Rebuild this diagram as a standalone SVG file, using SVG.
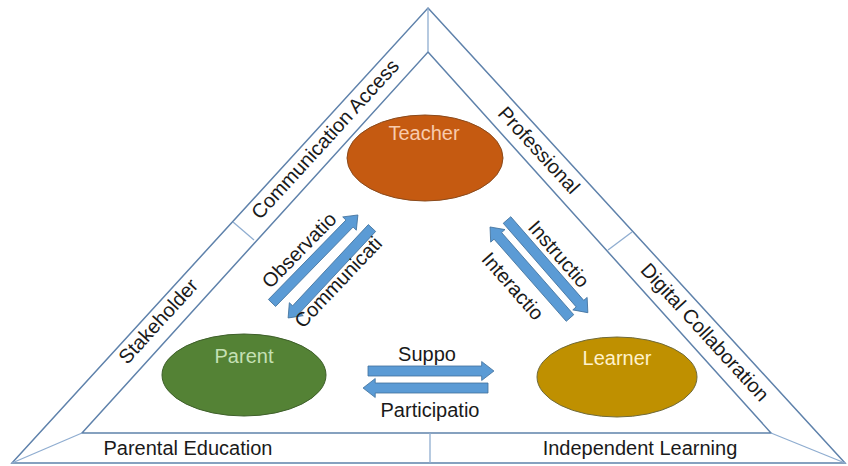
<svg xmlns="http://www.w3.org/2000/svg" width="848" height="466" viewBox="0 0 848 466">
  <style>
    .frame { fill: none; stroke: #5f82ab; stroke-width: 1.5; stroke-linejoin: miter; }
    .div { fill: none; stroke: #8fadd0; stroke-width: 1.3; }
    .lbl { font-family: "Liberation Sans", Arial, sans-serif; font-size: 20px; fill: #1a1a1a; text-anchor: middle; }
    .node-txt { font-family: "Liberation Sans", Arial, sans-serif; font-size: 20px; text-anchor: middle; }
    .arrow { fill: #5b9bd5; stroke: #41719c; stroke-width: 0.8; }
  </style>
  <defs>
    <!-- block arrow pointing along +x, length 123 -->
    <path id="blk" d="M0,-5 H111 V-9.5 L123,0 L111,9.5 V5 H0 Z"/>
  </defs>
  <rect width="848" height="466" fill="#ffffff"/>

  <!-- triangular frame -->
  <g id="frame">
    <polygon class="frame" points="428,8 845,463 12,463"/>
    <polygon class="frame" points="428,52 771,433 82,433"/>
    <line class="div" x1="428" y1="8" x2="428" y2="52"/>
    <line class="div" x1="12" y1="463" x2="82" y2="433"/>
    <line class="div" x1="845" y1="463" x2="771" y2="433"/>
    <line class="div" x1="233" y1="222" x2="254" y2="240"/>
    <line class="div" x1="632" y1="232" x2="608" y2="250"/>
    <line class="div" x1="430" y1="433" x2="430" y2="463"/>
  </g>

  <!-- band labels -->
  <g id="band-labels">
    <text class="lbl" transform="translate(325,139) rotate(-47.6)" y="7">Communication Access</text>
    <text class="lbl" transform="translate(158,321) rotate(-47.6)" y="7">Stakeholder</text>
    <text class="lbl" transform="translate(539,150) rotate(47.5)" y="7">Professional</text>
    <text class="lbl" transform="translate(705,332) rotate(47.5)" y="7">Digital Collaboration</text>
    <text class="lbl" x="188" y="455">Parental Education</text>
    <text class="lbl" x="640" y="455">Independent Learning</text>
  </g>

  <!-- nodes -->
  <g id="teacher">
    <ellipse cx="425" cy="158" rx="78" ry="43" fill="#c55a11" stroke="#8a4a1c" stroke-width="1"/>
    <text class="node-txt" x="424" y="140" fill="#f8cbad">Teacher</text>
  </g>
  <g id="parent">
    <ellipse cx="244" cy="375" rx="82" ry="41" fill="#548235" stroke="#3e5f2a" stroke-width="1"/>
    <text class="node-txt" x="244" y="363" fill="#c5e0b4">Parent</text>
  </g>
  <g id="learner">
    <ellipse cx="617" cy="377" rx="80" ry="40" fill="#bf9000" stroke="#6f6a3a" stroke-width="1"/>
    <text class="node-txt" x="617" y="365" fill="#fff2cc">Learner</text>
  </g>

  <!-- connectors -->
  <g id="connectors">
    <use href="#blk" class="arrow" transform="translate(272,303) rotate(-45.7)"/>
    <use href="#blk" class="arrow" transform="translate(372,228) rotate(133)"/>
    <use href="#blk" class="arrow" transform="translate(507,220) rotate(48.9)"/>
    <use href="#blk" class="arrow" transform="translate(570,318) rotate(-131.3) scale(0.985,1)"/>
    <use href="#blk" class="arrow" transform="translate(368,371) scale(1.024,1)"/>
    <use href="#blk" class="arrow" transform="translate(488,388) rotate(180) scale(1.016,1)"/>
    <text class="lbl" transform="translate(299,250) rotate(-45.7)" y="7">Observatio</text>
    <text class="lbl" transform="translate(338,282) rotate(-46.5)" y="7">Communicati</text>
    <text class="lbl" transform="translate(559,254) rotate(48.9)" y="7">Instructio</text>
    <text class="lbl" transform="translate(513,286) rotate(48.7)" y="7">Interactio</text>
    <text class="lbl" x="427" y="361">Suppo</text>
    <text class="lbl" x="430" y="417">Participatio</text>
  </g>
</svg>
